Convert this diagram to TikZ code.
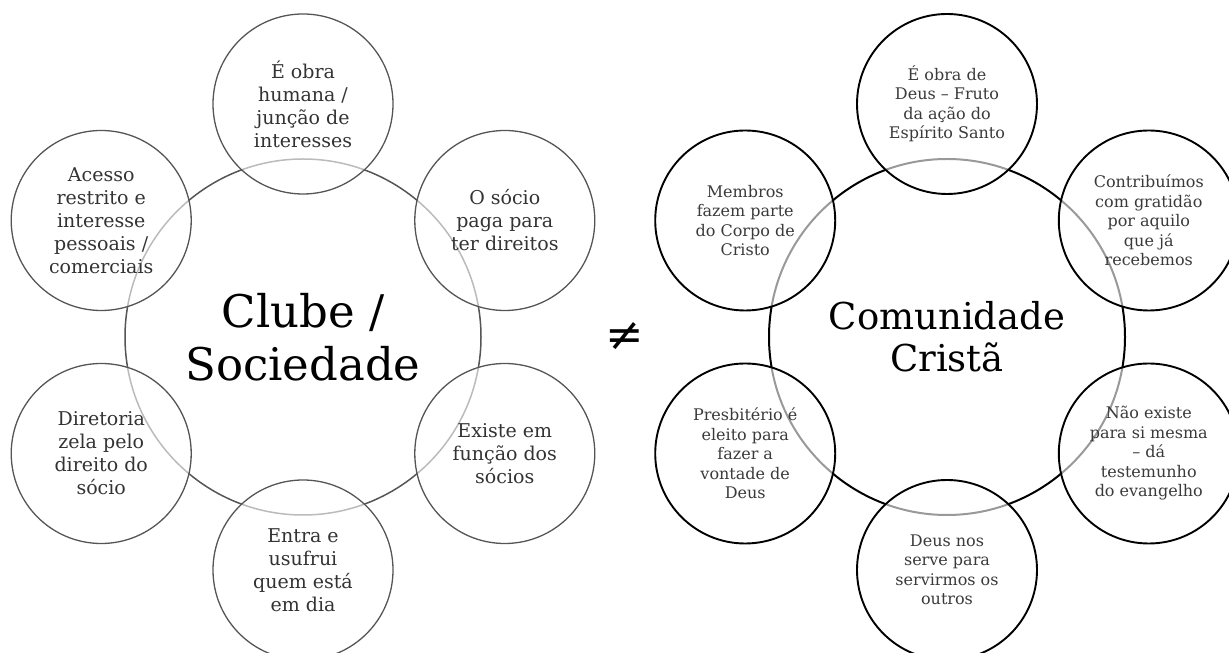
\documentclass[tikz,border=0pt]{standalone}
\usepackage{fontspec}
\setmainfont{DejaVu Serif}
\definecolor{clubgray}{HTML}{555555}
\definecolor{clubtext}{HTML}{333333}
\definecolor{churchtext}{HTML}{3A3A3A}
\begin{document}
\begin{tikzpicture}[x=1pt,y=1pt,
  bigring/.style={circle,inner sep=0pt,minimum size=356pt,align=center},
  petal/.style={circle,inner sep=0pt,minimum size=180pt,align=center,
    fill=white,fill opacity=0.6,text opacity=1},
  clubpetal/.style={petal,draw=clubgray,line width=1.3pt,text=clubtext,
    font=\fontsize{19}{23}\selectfont},
  churchpetal/.style={petal,draw=black,line width=1.9pt,text=churchtext,
    font=\fontsize{16}{19.5}\selectfont}]
\clip (0,0) rectangle (1229,653);

\node[bigring,draw=clubgray,line width=1.5pt,font=\fontsize{45}{53}\selectfont] (clube) at (303,316) {Clube /\\Sociedade};
\node[bigring,draw=black,line width=2pt,font=\fontsize{37}{42}\selectfont] (comunidade) at (947,316) {Comunidade\\Cristã};

\node[font=\fontsize{46}{46}\selectfont] (diferente) at (625,316) {≠};

\begin{scope}[shift={(303,316)}]
\node[clubpetal] (c1) at (90:233) {É obra\\humana /\\junção de\\interesses};
\node[clubpetal] (c2) at (30:233) {O sócio\\paga para\\ter direitos};
\node[clubpetal] (c3) at (-30:233) {Existe em\\função dos\\sócios};
\node[clubpetal] (c4) at (-90:233) {Entra e\\usufrui\\quem está\\em dia};
\node[clubpetal] (c5) at (-150:233) {Diretoria\\zela pelo\\direito do\\sócio};
\node[clubpetal] (c6) at (150:233) {Acesso\\restrito e\\interesse\\pessoais /\\comerciais};
\end{scope}

\begin{scope}[shift={(947,316)}]
\node[churchpetal] (m1) at (90:233) {É obra de\\Deus -- Fruto\\da ação do\\Espírito Santo};
\node[churchpetal] (m2) at (30:233) {Contribuímos\\com gratidão\\por aquilo\\que já\\recebemos};
\node[churchpetal] (m3) at (-30:233) {Não existe\\para si mesma\\-- dá\\testemunho\\do evangelho};
\node[churchpetal] (m4) at (-90:233) {Deus nos\\serve para\\servirmos os\\outros};
\node[churchpetal] (m5) at (-150:233) {Presbitério é\\eleito para\\fazer a\\vontade de\\Deus};
\node[churchpetal] (m6) at (150:233) {Membros\\fazem parte\\do Corpo de\\Cristo};
\end{scope}

\end{tikzpicture}
\end{document}
